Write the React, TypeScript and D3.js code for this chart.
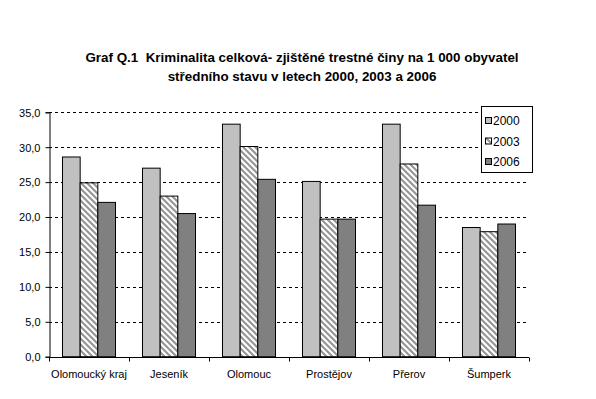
import React, { useEffect, useRef } from "react";
import * as d3 from "d3";

const categories = ["Olomoucký kraj", "Jeseník", "Olomouc", "Prostějov", "Přerov", "Šumperk"];
const seriesNames = ["2000", "2003", "2006"];
const values2000 = [28.6, 27.0, 33.3, 25.1, 33.3, 18.5];
const values2003 = [24.9, 23.0, 30.1, 19.7, 27.6, 17.9];
const values2006 = [22.1, 20.5, 25.4, 19.7, 21.7, 19.0];
const yTicks = [0, 5, 10, 15, 20, 25, 30, 35];
const titleLines = [
  "Graf Q.1  Kriminalita celková- zjištěné trestné činy na 1 000 obyvatel",
  "středního stavu v letech 2000, 2003 a 2006",
];

const W = 596, H = 399;
const fills = ["#c0c0c0", "url(#hatch)", "#808080"];

export default function App() {
  const ref = useRef<SVGSVGElement>(null);
  useEffect(() => {
    const svg = d3.select(ref.current);
    svg.selectAll("*").remove();
    const font = "'Liberation Sans', Arial, sans-serif";

    const defs = svg.append("defs");
    const pat = defs.append("pattern").attr("id", "hatch").attr("patternUnits", "userSpaceOnUse")
      .attr("width", 6).attr("height", 6);
    pat.append("rect").attr("width", 6).attr("height", 6).attr("fill", "#ffffff");
    pat.append("path").attr("d", "M-1,-1 L7,7 M-1,5 L1,7 M5,-1 L7,1")
      .attr("stroke", "#969696").attr("stroke-width", 2.2);

    const left = 49, right = 529, top = 112.3, bottom = 356.7;
    const x = d3.scaleBand().domain(categories).range([left, right]).paddingInner(0).paddingOuter(0);
    const x1 = d3.scaleBand().domain(seriesNames).range([0, x.bandwidth()]).paddingOuter(0.764).paddingInner(0);
    const y = d3.scaleLinear().domain([0, 35]).range([bottom, top]);

    svg.append("rect").attr("width", W).attr("height", H).attr("fill", "#fff");

    // title
    titleLines.forEach((t, i) => {
      svg.append("text").attr("x", 302).attr("y", 62 + i * 18.5).attr("text-anchor", "middle")
        .attr("font-family", font).attr("font-weight", "bold").attr("font-size", 13.4)
        .style("white-space", "pre").text(t);
    });

    // gridlines
    yTicks.filter(v => v > 0).forEach(v => {
      svg.append("line").attr("x1", left).attr("x2", right).attr("y1", Math.round(y(v)) + 0.5).attr("y2", Math.round(y(v)) + 0.5)
        .attr("stroke", "#000").attr("stroke-dasharray", "3,3");
    });

    const data = [values2000, values2003, values2006];
    categories.forEach((c, ci) => {
      seriesNames.forEach((s, si) => {
        const v = data[si][ci];
        svg.append("rect")
          .attr("x", (x(c) as number) + (x1(s) as number))
          .attr("y", y(v))
          .attr("width", x1.bandwidth())
          .attr("height", y(0) - y(v))
          .attr("fill", fills[si])
          .attr("stroke", "#000").attr("stroke-width", 1);
      });
    });

    // axes
    const ay = svg.append("g").attr("transform", `translate(${left + 0.5},0)`)
      .call(d3.axisLeft(y).tickValues(yTicks).tickSize(4).tickFormat(d => d3.format(".1f")(d as number).replace(".", ",")));
    ay.select(".domain").attr("stroke", "#000");
    ay.selectAll("text").attr("font-family", font).attr("font-size", 11).attr("x", -9).attr("dy", "0.35em");

    const ax = svg.append("g").attr("transform", `translate(0,${Math.round(bottom) + 0.5})`);
    ax.append("line").attr("x1", left).attr("x2", right).attr("stroke", "#000");
    const bounds = d3.range(categories.length + 1).map(i => left + i * x.bandwidth());
    bounds.forEach(b => {
      ax.append("line").attr("x1", Math.round(b) + 0.5).attr("x2", Math.round(b) + 0.5).attr("y1", 0).attr("y2", 4).attr("stroke", "#000");
    });
    categories.forEach(c => {
      ax.append("text").attr("x", (x(c) as number) + x.bandwidth() / 2).attr("y", 20)
        .attr("text-anchor", "middle").attr("font-family", font).attr("font-size", 11).text(c);
    });

    // legend
    const lg = svg.append("g");
    lg.append("rect").attr("x", 481.5).attr("y", 106.5).attr("width", 51).attr("height", 66)
      .attr("fill", "#fff").attr("stroke", "#000");
    seriesNames.forEach((s, i) => {
      const cy = 121 + i * 20.5;
      lg.append("rect").attr("x", 485.5).attr("y", cy - 3.5).attr("width", 6).attr("height", 6)
        .attr("fill", fills[i]).attr("stroke", "#000");
      lg.append("text").attr("x", 493).attr("y", cy + 4).attr("font-family", font).attr("font-size", 12).text(s);
    });
  }, []);
  return <svg ref={ref} width={W} height={H} style={{ position: "absolute", left: 0, top: 0 }} />;
}
